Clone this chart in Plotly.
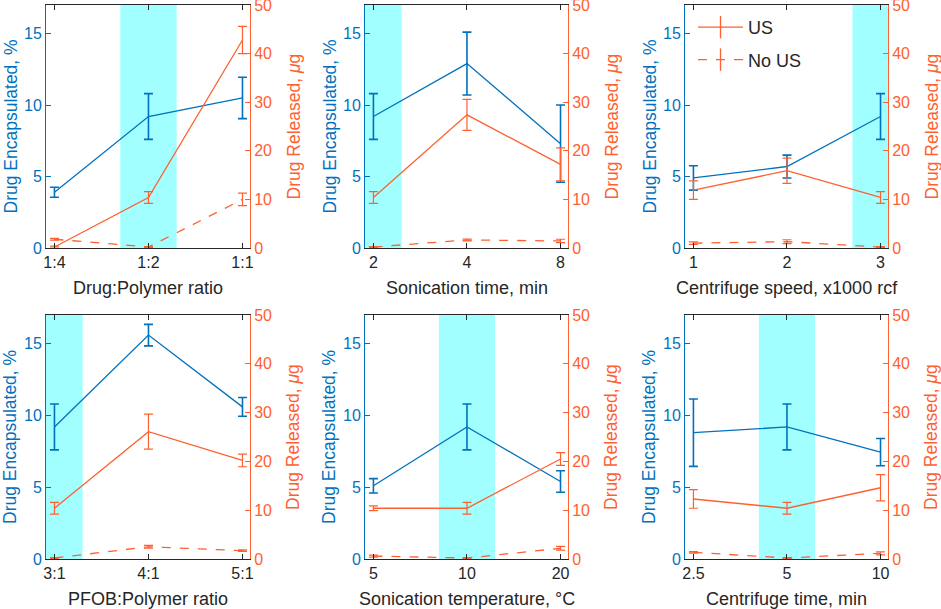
import plotly.graph_objects as go

# ---------------- data ----------------
categories = [
    ["1:4", "1:2", "1:1"],
    ["2", "4", "8"],
    ["1", "2", "3"],
    ["3:1", "4:1", "5:1"],
    ["5", "10", "20"],
    ["2.5", "5", "10"],
]
x_titles = [
    "Drug:Polymer ratio",
    "Sonication time, min",
    "Centrifuge speed, x1000 rcf",
    "PFOB:Polymer ratio",
    "Sonication temperature, °C",
    "Centrifuge time, min",
]
optimum = ["1:2", "2", "3", "3:1", "10", "5"]

enc = [[3.9, 9.2, 10.5], [9.2, 12.9, 7.3], [4.9, 5.7, 9.2],
       [9.2, 15.6, 10.6], [5.1, 9.2, 5.4], [8.8, 9.2, 7.45]]
enc_err = [[0.35, 1.6, 1.45], [1.6, 2.2, 2.7], [0.85, 0.8, 1.6],
           [1.6, 0.75, 0.65], [0.5, 1.6, 0.75], [2.35, 1.6, 0.95]]
rel_us = [[0.2, 10.4, 42.8], [10.4, 27.4, 17.2], [11.9, 15.9, 10.4],
          [10.4, 26.1, 20.2], [10.4, 10.4, 20.5], [12.3, 10.4, 14.6]]
rel_us_err = [[0.2, 1.2, 2.8], [1.2, 3.2, 3.4], [1.9, 2.6, 1.2],
              [1.2, 3.6, 1.3], [0.5, 1.2, 1.3], [1.9, 1.2, 2.7]]
rel_nous = [[1.8, 0.2, 10.0], [0.2, 1.65, 1.45], [1.0, 1.3, 0.2],
            [0.2, 2.5, 1.7], [0.6, 0.2, 2.2], [1.37, 0.2, 1.16]]
rel_nous_err = [[0.2, 0.1, 1.3], [0.1, 0.2, 0.35], [0.25, 0.4, 0.1],
                [0.1, 0.3, 0.15], [0.2, 0.1, 0.4], [0.15, 0.1, 0.3]]

enc_ticks = [0, 5, 10, 15]
rel_ticks = [0, 10, 20, 30, 40, 50]
legend_names = ["US", "No US"]
y_left_title = "Drug Encapsulated, %"
y_right_title = "Drug Released, <i>μ</i>g"

# ---------------- styles ----------------
BLUE = "#0072BD"
ORANGE = "#FF6030"
DARK = "#262626"
FONT = "Liberation Sans, Arial, Helvetica, sans-serif"
W, H = 941, 609
TICK = 16
TITLE = 17.5

col_px = [(46, 250), (365, 568), (685, 888)]
row_px = [(5, 248), (315, 559)]

fig = go.Figure()
layout = dict(
    width=W, height=H, margin=dict(l=0, r=0, t=0, b=0, autoexpand=False),
    paper_bgcolor="white", plot_bgcolor="white",
    font=dict(family=FONT, size=14, color=DARK),
    showlegend=True,
    legend=dict(x=693 / W, y=1 - 9 / H, xanchor="left", yanchor="top",
                bgcolor="rgba(0,0,0,0)", font=dict(size=18, color=DARK),
                tracegroupgap=6, traceorder="grouped", itemwidth=45),
    shapes=[], annotations=[],
)

for i in range(6):
    r, c = divmod(i, 3)
    n = i + 1
    xa = "x" if n == 1 else f"x{n}"
    ya = "y" if n == 1 else f"y{n}"
    yb = f"y{n + 6}"
    x0p, x1p = col_px[c]
    y0p, y1p = row_px[r]
    xd = [x0p / W, x1p / W]
    yd = [1 - y1p / H, 1 - y0p / H]
    idx = list(range(len(categories[i])))

    layout["xaxis" + ("" if n == 1 else str(n))] = dict(
        domain=xd, anchor=ya, range=[-0.09, 2.08],
        tickvals=idx, ticktext=categories[i],
        ticks="inside", ticklen=5, tickcolor=DARK, showline=True,
        linecolor=DARK, linewidth=1, mirror="ticks", showgrid=False,
        zeroline=False, tickfont=dict(size=TICK, color=DARK),
        automargin=False, ticklabeloverflow="allow",
    )
    layout["yaxis" + ("" if n == 1 else str(n))] = dict(
        domain=yd, anchor=xa, range=[0, 17], tickvals=enc_ticks,
        ticks="inside", ticklen=5, tickcolor=BLUE, showline=True,
        linecolor=BLUE, linewidth=1, showgrid=False, zeroline=False,
        tickfont=dict(size=TICK, color=BLUE), automargin=False,
        ticklabeloverflow="allow",
    )
    layout[f"yaxis{n + 6}"] = dict(
        overlaying=ya, anchor=xa, side="right", range=[0, 50],
        tickvals=rel_ticks, ticks="inside", ticklen=5, tickcolor=ORANGE,
        showline=True, linecolor=ORANGE, linewidth=1, showgrid=False,
        zeroline=False, tickfont=dict(size=TICK, color=ORANGE),
        automargin=False, ticklabeloverflow="allow",
    )

    # axis titles
    ymid = 1 - (y0p + y1p) / 2 / H
    xmid = (x0p + x1p) / 2 / W
    layout["annotations"] += [
        dict(text=x_titles[i], xref="paper", yref="paper", x=xmid,
             y=1 - (y1p + 40) / H, xanchor="center", yanchor="middle",
             showarrow=False, font=dict(size=18, color=DARK)),
        dict(text=y_left_title, xref="paper", yref="paper",
             x=(x0p - 36) / W, y=ymid, xanchor="center", yanchor="middle",
             textangle=-90, showarrow=False,
             font=dict(size=TITLE, color=BLUE)),
        dict(text=y_right_title, xref="paper", yref="paper",
             x=(x1p + 43) / W, y=ymid, xanchor="center", yanchor="middle",
             textangle=-90, showarrow=False,
             font=dict(size=TITLE, color=ORANGE)),
    ]

    k = categories[i].index(optimum[i])
    layout["shapes"].append(dict(
        type="rect", xref=xa, yref=f"{ya} domain", x0=k - 0.3, x1=k + 0.3,
        y0=0, y1=1, fillcolor="rgba(0,255,255,0.37)", line=dict(width=0),
        layer="below"))

    fig.add_trace(go.Scatter(
        x=idx, y=enc[i], xaxis=xa, yaxis=ya, mode="lines",
        line=dict(color=BLUE, width=1.3), showlegend=False,
        error_y=dict(type="data", array=enc_err[i], color=BLUE,
                     thickness=1.6, width=4.5)))
    fig.add_trace(go.Scatter(
        x=idx, y=rel_nous[i], xaxis=xa, yaxis=yb, mode="lines",
        line=dict(color=ORANGE, width=1.3, dash="dash"), showlegend=False,
        error_y=dict(type="data", array=rel_nous_err[i], color=ORANGE,
                     thickness=1.2, width=4.5)))
    fig.add_trace(go.Scatter(
        x=idx, y=rel_us[i], xaxis=xa, yaxis=yb, mode="lines",
        line=dict(color=ORANGE, width=1.3), showlegend=False,
        error_y=dict(type="data", array=rel_us_err[i], color=ORANGE,
                     thickness=1.2, width=4.5)))

# legend entries (line + error-bar glyph)
for name, dash in zip(legend_names, ["solid", "dash"]):
    fig.add_trace(go.Scatter(
        x=[None], y=[None], xaxis="x3", yaxis="y9", mode="lines+markers",
        name=name, legendgroup=name,
        line=dict(color=ORANGE, width=1.3, dash=dash),
        marker=dict(symbol="line-ns-open", size=16, color=ORANGE,
                    line=dict(color=ORANGE, width=1.3))))

fig.update_layout(**layout)
fig.write_html(
    "out.html",
    config={"displayModeBar": False},
    post_script=(
        "var s=document.documentElement.style;s.margin='0';s.padding='0';"
        "s.overflow='hidden';"
        "var b=document.body.style;b.margin='0';b.padding='0';"
        "b.overflow='hidden';"
    ),
)
